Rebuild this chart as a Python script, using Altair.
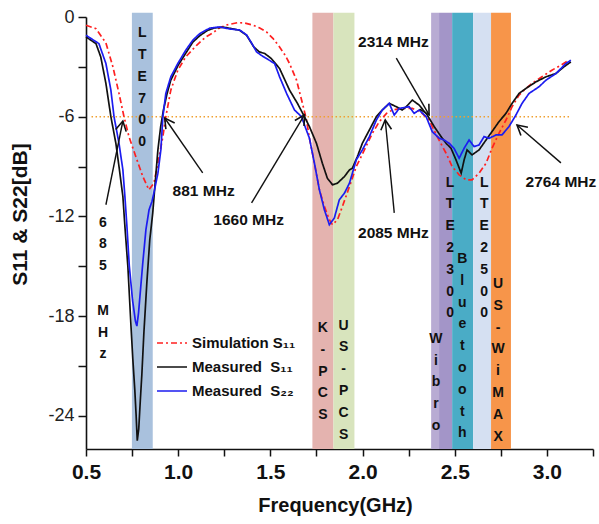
import math
import altair as alt
import pandas as pd

# ---------------- data ----------------
X_MIN, X_MAX = 0.5, 3.25
Y_MIN, Y_MAX = -26, 0
W, H = 507, 432

sim_f = [0.50, 0.554, 0.608, 0.646, 0.679, 0.706, 0.733, 0.770, 0.808, 0.841, 0.868, 0.890, 0.917, 0.933,
         0.960, 0.998, 1.041, 1.10, 1.15, 1.187, 1.225, 1.263, 1.322, 1.36, 1.404, 1.44, 1.479, 1.515,
         1.55, 1.58, 1.604, 1.642, 1.674, 1.696, 1.712, 1.739, 1.766, 1.793, 1.82, 1.837, 1.864, 1.891,
         1.929, 1.966, 2.01, 2.053, 2.091, 2.13, 2.161, 2.215, 2.27, 2.324, 2.361, 2.405, 2.453, 2.486,
         2.524, 2.562, 2.594, 2.632, 2.67, 2.702, 2.74, 2.778, 2.811, 2.849, 2.886, 2.919, 2.973, 3.027,
         3.076, 3.119]
sim_db = [-0.5, -0.7, -1.56, -3.0, -4.6, -6.0, -7.2, -8.4, -9.6, -10.4, -10.0, -8.8, -7.2, -6.0,
          -4.4, -3.2, -2.4, -1.7, -1.2, -0.96, -0.65, -0.48, -0.34, -0.36, -0.48, -0.65, -0.9, -1.3,
          -1.8, -2.3, -2.8, -3.8, -5.2, -6.2, -7.3, -8.8, -10.4, -11.4, -12.2, -12.5, -12.2, -11.4,
          -10.2, -9.0, -8.0, -7.0, -6.3, -5.8, -5.6, -5.5, -5.5, -5.8, -6.2, -7.2, -8.2, -9.0,
          -9.5, -9.8, -9.8, -9.4, -8.8, -7.9, -7.0, -6.2, -5.4, -4.7, -4.3, -4.0, -3.6, -3.2,
          -2.9, -2.6]

m11_f = [0.50, 0.554, 0.58, 0.608, 0.635, 0.662, 0.679, 0.70, 0.711, 0.727, 0.744, 0.754, 0.765, 0.772,
         0.778, 0.786, 0.795, 0.803, 0.814, 0.83, 0.846, 0.862, 0.875, 0.89, 0.905, 0.92, 0.94, 0.96,
         1.0, 1.04, 1.08, 1.12, 1.16, 1.2, 1.25, 1.3, 1.333, 1.371, 1.41, 1.44, 1.47, 1.505, 1.55,
         1.604, 1.647, 1.685, 1.712, 1.75, 1.782, 1.809, 1.837, 1.864, 1.902, 1.929, 1.945, 1.972,
         1.999, 2.037, 2.075, 2.107, 2.145, 2.183, 2.215, 2.237, 2.27, 2.307, 2.351, 2.389, 2.426,
         2.453, 2.48, 2.507, 2.535, 2.551, 2.567, 2.594, 2.632, 2.67, 2.702, 2.74, 2.778, 2.811,
         2.849, 2.886, 2.941, 2.995, 3.049, 3.092, 3.13]
m11_db = [-1.2, -1.6, -2.4, -4.0, -6.0, -7.6, -9.0, -10.8, -12.6, -15.0, -18.6, -20.6, -22.5, -24.0,
          -25.5, -24.8, -23.0, -21.5, -19.0, -16.0, -13.4, -11.8, -10.0, -8.0, -6.6, -5.6, -4.6, -3.8,
          -2.9, -2.2, -1.5, -1.1, -0.8, -0.65, -0.62, -0.72, -0.8, -1.1, -1.8, -2.1, -2.2, -2.5, -3.1,
          -4.4, -5.2, -6.0, -6.6, -7.6, -8.8, -9.7, -10.1, -10.0, -9.6, -9.2, -9.1, -8.4,
          -7.6, -6.8, -6.0, -5.6, -5.2, -5.4, -5.6, -5.4, -5.0, -5.3, -5.9, -6.6, -7.2,
          -7.6, -7.9, -8.6, -9.4, -8.6, -8.0, -8.3, -8.0, -7.4, -6.9, -6.3, -5.8, -5.2,
          -4.6, -4.3, -3.9, -3.6, -3.4, -3.0, -2.7]

m22_f = [0.50, 0.57, 0.608, 0.635, 0.652, 0.679, 0.70, 0.711, 0.722, 0.735, 0.752, 0.768, 0.776, 0.785,
         0.795, 0.808, 0.825, 0.842, 0.858, 0.868, 0.89, 0.906, 0.917, 0.933, 0.96, 0.998, 1.041, 1.079,
         1.117, 1.171, 1.225, 1.279, 1.333, 1.371, 1.40, 1.425, 1.45, 1.479, 1.523, 1.55, 1.588, 1.631,
         1.669, 1.685, 1.712, 1.739, 1.766, 1.793, 1.82, 1.847, 1.874, 1.902, 1.929, 1.966, 1.999,
         2.037, 2.075, 2.107, 2.145, 2.172, 2.199, 2.253, 2.28, 2.307, 2.345, 2.378, 2.416, 2.442,
         2.47, 2.496, 2.524, 2.551, 2.578, 2.605, 2.632, 2.659, 2.686, 2.724, 2.756, 2.794, 2.832,
         2.865, 2.903, 2.957, 2.995, 3.049, 3.103, 3.13]
m22_db = [-1.1, -1.6, -2.8, -4.4, -6.0, -7.6, -9.2, -10.8, -12.6, -15.0, -17.0, -18.3, -18.6, -17.8,
          -16.5, -14.8, -12.8, -11.6, -11.1, -10.6, -9.4, -8.0, -6.0, -4.6, -3.6, -2.8, -2.0, -1.4,
          -1.0, -0.67, -0.6, -0.72, -0.78, -1.08, -1.6, -2.1, -2.3, -2.5, -2.8, -3.6, -4.6, -5.6,
          -6.0, -6.5, -7.3, -8.8, -10.4, -11.6, -12.5, -12.1, -11.0, -10.6, -10.0, -8.6, -8.0,
          -7.2, -6.2, -5.6, -5.2, -5.9, -5.5, -5.4, -5.8, -5.6, -6.0, -6.9, -7.3, -7.4,
          -7.6, -7.9, -8.5, -7.9, -7.4, -7.8, -7.7, -7.2, -7.3, -7.1, -7.1, -6.6, -5.9,
          -5.2, -4.6, -4.2, -3.8, -3.4, -2.8, -2.6]

series_names = ["Simulation S\u2081\u2081", "Measured\u00a0 S\u2081\u2081", "Measured\u00a0 S\u2082\u2082"]
series_colors = ["#ff2020", "#111111", "#1c1cf0"]
series_dash = [[6, 3, 2, 3], [1, 0], [1, 0]]

band_start = [0.749, 1.728, 1.842, 2.372, 2.415, 2.486, 2.600, 2.697]
band_end = [0.862, 1.842, 1.956, 2.415, 2.486, 2.600, 2.697, 2.805]
band_color = ["#a9c1dd", "#e4b3af", "#d8e4bd", "#b8abd3", "#a395c8", "#4aacc6", "#d5e0f2", "#f7954a"]
band_top = 0.25

label_text = ["LTE700", "K-PCS", "US-PCS", "LTE2300", "Wibro", "Bluetooth", "LTE2500", "US-WiMAX",
              "685", "MHz"]
label_x = [0.805, 1.785, 1.897, 2.475, 2.398, 2.541, 2.660, 2.735, 0.592, 0.592]
label_top = [-0.55, -18.3, -18.15, -9.55, -18.95, -14.15, -9.55, -15.65, -11.95, -17.26]

ann_text = ["881 MHz", "1660 MHz", "2085 MHz", "2314 MHz", "2764 MHz"]
ann_x = [1.138, 1.382, 2.167, 2.167, 3.076]
ann_y = [-10.5, -12.2, -12.99, -1.5, -9.92]

arr_x0 = [0.608, 1.133, 1.398, 2.172, 2.183, 3.076]
arr_y0 = [-11.3, -9.38, -11.19, -11.79, -2.47, -8.78]
arr_x1 = [0.700, 0.927, 1.685, 2.123, 2.361, 2.838]
arr_y1 = [-6.26, -6.08, -5.89, -6.20, -5.89, -6.50]

ref_level = -6
ref_start, ref_end = 0.53, 3.12

# ---------------- tables ----------------
curves = pd.concat([
    pd.DataFrame({"f": sim_f, "db": sim_db, "series": series_names[0]}),
    pd.DataFrame({"f": m11_f, "db": m11_db, "series": series_names[1]}),
    pd.DataFrame({"f": m22_f, "db": m22_db, "series": series_names[2]}),
], ignore_index=True)

bands = pd.DataFrame({"f": band_start, "f2": band_end, "c": band_color,
                      "db": [Y_MIN] * len(band_start), "db2": [band_top] * len(band_start)})

labels = pd.DataFrame({"f": label_x, "db": label_top,
                       "t": ["\n".join(list(s)) for s in label_text]})
ann = pd.DataFrame({"f": ann_x, "db": ann_y, "t": ann_text})

sx = W / (X_MAX - X_MIN)
sy = H / (Y_MAX - Y_MIN)
angles = []
for a, b, c, d in zip(arr_x0, arr_y0, arr_x1, arr_y1):
    dxp = (c - a) * sx
    dyp = -(d - b) * sy
    angles.append(math.degrees(math.atan2(dxp, -dyp)) % 360)
arrows = pd.DataFrame({"f": arr_x0, "db": arr_y0, "f2": arr_x1, "db2": arr_y1, "ang": angles})

ref = pd.DataFrame({"f": [ref_start], "f2": [ref_end], "db": [ref_level]})

# ---------------- scales & axes ----------------
FONT = "Liberation Sans"
xscale = alt.Scale(domain=[X_MIN, X_MAX], nice=False, zero=False)
yscale = alt.Scale(domain=[Y_MIN, Y_MAX], nice=False, zero=False)

xaxis = alt.Axis(
    title="Frequency(GHz)", values=[0.5 + 0.25 * i for i in range(12)],
    labelExpr="(datum.value * 2) % 1 == 0 ? format(datum.value, '.1f') : ''",
    grid=False, tickSize=7, tickWidth=1.5, tickColor="#111", domainColor="#111", domainWidth=1.6,
    labelFont=FONT, labelFontSize=21, labelFontWeight="bold", labelColor="#111", labelPadding=5,
    labelFlush=False, labelOverlap=False,
    titleFont=FONT, titleFontSize=20, titleFontWeight="bold", titleColor="#111",
    titleX=249, titleY=56, titleBaseline="middle", titleAlign="center")

yaxis = alt.Axis(
    title="S11 & S22[dB]", values=[-24 + 3 * i for i in range(9)],
    labelExpr="datum.value % 6 == 0 ? (datum.value < 0 ? '-' + abs(datum.value) : '' + datum.value) : ''",
    grid=False, tickSize=8, tickWidth=1.5, tickColor="#111", domainColor="#111", domainWidth=1.6,
    labelFont=FONT, labelFontSize=18, labelFontWeight="normal", labelColor="#222", labelPadding=4,
    labelOverlap=False,
    titleFont=FONT, titleFontSize=21, titleFontWeight="bold", titleColor="#111",
    titleAngle=270, titleX=-66, titleY=197, titleBaseline="middle", titleAlign="center")


def X(field="f"):
    return alt.X(field, type="quantitative", scale=xscale, axis=xaxis)


def Y(field="db"):
    return alt.Y(field, type="quantitative", scale=yscale, axis=yaxis)


# ---------------- layers ----------------
band_layer = alt.Chart(bands).mark_rect().encode(
    x=X(), x2="f2", y=Y(), y2="db2", color=alt.Color("c:N", scale=None))

ref_layer = alt.Chart(ref).mark_rule(color="#f0a030", strokeWidth=1.6, strokeDash=[1.5, 2.5]).encode(
    x=X(), x2="f2", y=Y())

legend = alt.Legend(orient="none", legendX=70, legendY=310, title=None, symbolType="stroke",
                    symbolSize=900, symbolStrokeWidth=1.6, labelFont=FONT, labelFontSize=15,
                    labelFontWeight="bold", labelColor="#111", labelOffset=4, rowPadding=0,
                    labelLimit=300, padding=0)

curve_layer = alt.Chart(curves).mark_line(strokeWidth=1.7).encode(
    x=X(), y=Y(),
    color=alt.Color("series:N", scale=alt.Scale(domain=series_names, range=series_colors), legend=legend),
    strokeDash=alt.StrokeDash("series:N", scale=alt.Scale(domain=series_names, range=series_dash),
                              legend=legend),
    order=alt.Order("f:Q"))

arrow_lines = alt.Chart(arrows).mark_rule(color="#111", strokeWidth=1.4).encode(
    x=X(), y=Y(), x2="f2", y2="db2")

arrow_heads = alt.Chart(arrows).mark_point(
    shape="M-0.55,1L0,0L0.55,1", filled=False, size=380, color="#111", strokeWidth=1.6, opacity=1
).encode(x=X("f2"), y=Y("db2"), angle=alt.Angle("ang:Q", scale=None))

band_text = alt.Chart(labels).mark_text(
    lineBreak="\n", lineHeight=21.8, baseline="top", align="center", font=FONT,
    fontSize=14, fontWeight="bold", color="#111"
).encode(x=X(), y=Y(), text="t:N")

ann_layer = alt.Chart(ann).mark_text(
    baseline="middle", align="center", font=FONT, fontSize=15.5, fontWeight="bold", color="#111"
).encode(x=X(), y=Y(), text="t:N")

chart = alt.layer(
    band_layer, ref_layer, curve_layer, arrow_lines, arrow_heads, band_text, ann_layer
).properties(
    width=W, height=H,
    autosize=alt.AutoSizeParams(type="none"),
    padding={"left": 86, "top": 17, "right": 6, "bottom": 75},
).configure_view(stroke=None)

chart.save("out.html", embed_options={"renderer": "svg", "actions": False})
